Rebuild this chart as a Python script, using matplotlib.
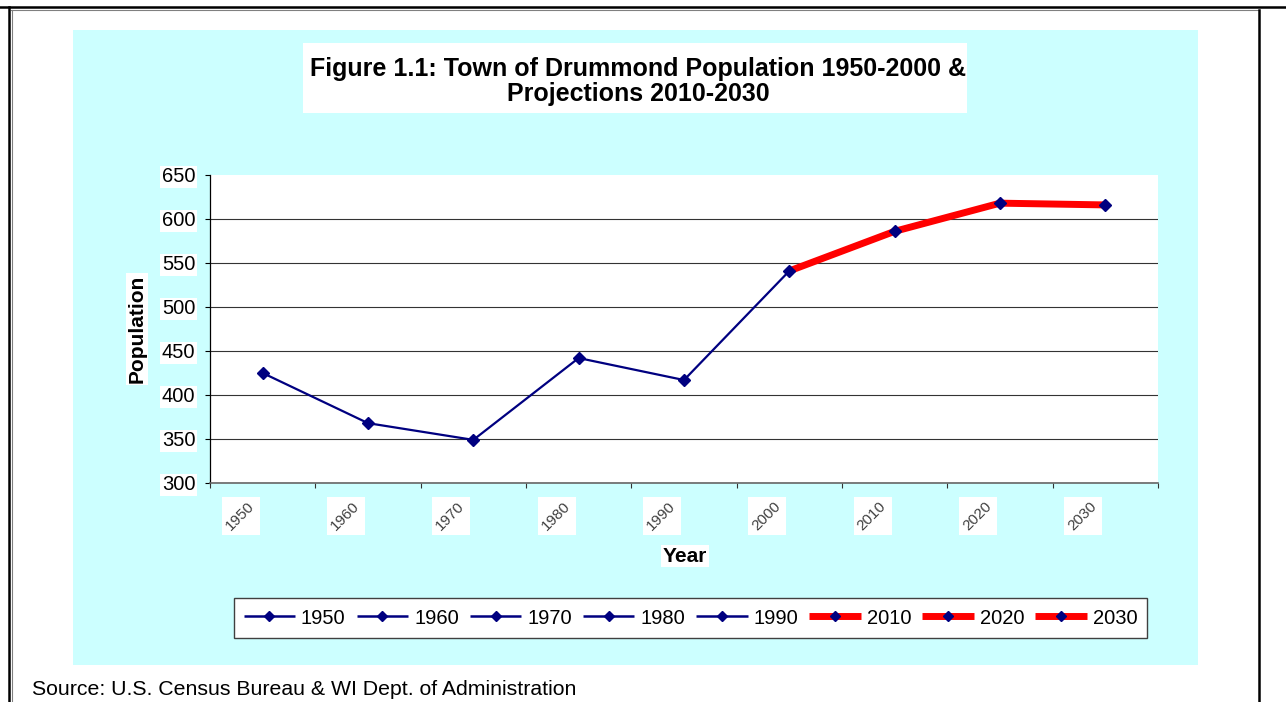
import matplotlib
matplotlib.use('Agg')
import matplotlib.pyplot as plt
import matplotlib.patches as mpatches
from matplotlib.lines import Line2D
from matplotlib.transforms import ScaledTranslation, blended_transform_factory
import numpy as np

plt.rcParams['font.family'] = ['Liberation Sans', 'DejaVu Sans']

# 数据
years = ['1950', '1960', '1970', '1980', '1990', '2000', '2010', '2020', '2030']
population = [425, 368, 349, 442, 417, 541, 586, 618, 616]
last_census = '2000'            # 之后为预测值
legend_years = ['1950', '1960', '1970', '1980', '1990', '2010', '2020', '2030']
y_ticks = [300, 350, 400, 450, 500, 550, 600, 650]
title_lines = ['Figure 1.1: Town of Drummond Population 1950-2000 &',
               'Projections 2010-2030']

NAVY = '#000080'
RED = '#FF0000'
CYAN = '#CCFFFF'

W, H = 1286, 702


def px(x, y):
    """像素坐标 (左上为原点) -> figure 坐标."""
    return x / W, 1 - y / H


def main():
    fig = plt.figure(figsize=(W / 100, H / 100), dpi=100)
    fig.patch.set_facecolor('white')

    # 页面边框
    fig.add_artist(Line2D([0, 1], [px(0, 7)[1]] * 2, color='black', lw=1.8))
    fig.add_artist(Line2D([px(11, 0)[0], px(1258, 0)[0]], [px(0, 10)[1]] * 2,
                          color='#808080', lw=0.8))
    fig.add_artist(Line2D([px(9, 0)[0]] * 2, [0, px(0, 7)[1]], color='black', lw=1.8))
    fig.add_artist(Line2D([px(11.5, 0)[0]] * 2, [0, px(0, 10)[1]],
                          color='#808080', lw=0.8))
    fig.add_artist(Line2D([px(1259, 0)[0]] * 2, [0, px(0, 10)[1]], color='black', lw=1.8))

    # 图表区背景 (青色) 和标题白框
    x0, y0 = px(73, 665)
    x1, y1 = px(1198, 30)
    fig.add_artist(mpatches.Rectangle((x0, y0), x1 - x0, y1 - y0,
                                      transform=fig.transFigure,
                                      facecolor=CYAN, edgecolor='none', zorder=0))
    x0, y0 = px(303, 113)
    x1, y1 = px(967, 43)
    fig.add_artist(mpatches.Rectangle((x0, y0), x1 - x0, y1 - y0,
                                      transform=fig.transFigure,
                                      facecolor='white', edgecolor='none', zorder=1))
    for line, base in zip(title_lines, [76, 101.5]):
        tx, ty = px(638, base)
        fig.text(tx, ty, line, ha='center', va='baseline',
                 fontsize=18, fontweight='bold', zorder=2)

    # 绘图区
    left, bottom = px(210, 483)
    right, top = px(1158, 175)
    ax = fig.add_axes([left, bottom, right - left, top - bottom])
    ax.set_facecolor('white')

    x = np.arange(len(years))
    split = years.index(last_census)
    ax.plot(x[:split + 1], population[:split + 1], color=NAVY, lw=1.6, zorder=3)
    ax.plot(x[split:], population[split:], color=RED, lw=5, zorder=3,
            solid_capstyle='butt')
    ax.plot(x, population, ls='none', marker='D', ms=6, color=NAVY, zorder=4)

    ax.set_xlim(-0.5, len(years) - 0.5)
    ax.set_ylim(y_ticks[0], y_ticks[-1])

    # 网格线 (顶部 650 不画)
    ax.set_yticks(y_ticks)
    ax.yaxis.grid(True, color='#333333', lw=0.8)
    ax.get_ygridlines()[-1].set_visible(False)
    ax.set_axisbelow(True)

    for s in ['top', 'right']:
        ax.spines[s].set_visible(False)
    ax.spines['left'].set_color('black')
    ax.spines['left'].set_linewidth(0.9)
    ax.spines['bottom'].set_color('#666666')
    ax.spines['bottom'].set_linewidth(1.2)

    ax.tick_params(axis='y', direction='out', length=3.6, width=0.8,
                   labelsize=14.5, pad=7)
    for lbl in ax.get_yticklabels():
        lbl.set_bbox(dict(facecolor='white', edgecolor='none', pad=1))

    # 类别轴: 刻度在类别边界, 标签在中心
    ax.set_xticks(x)
    ax.set_xticks(np.arange(len(years) + 1) - 0.5, minor=True)
    ax.set_xticklabels(years, rotation=45, ha='right', va='top',
                       fontsize=11, color='#404040')
    ax.tick_params(axis='x', which='major', length=0, pad=12)
    ax.tick_params(axis='x', which='minor', direction='out', length=3.6,
                   width=0.8, color='#333333')
    offset = ScaledTranslation(-6 / 100, 0, fig.dpi_scale_trans)
    for lbl in ax.get_xticklabels():
        lbl.set_transform(lbl.get_transform() + offset)

    # 标签后面的白色方框 (不随文字旋转), 放在坐标轴 (zorder 0.5) 之下
    cat_px = 948 / len(years)
    trans = blended_transform_factory(ax.transData, ax.transAxes)
    for i in x:
        ax.add_patch(mpatches.Rectangle((i - 41 / cat_px, (483 - 535) / 308),
                                        38 / cat_px, 38 / 308, transform=trans,
                                        facecolor='white', edgecolor='none',
                                        clip_on=False, zorder=0.4))

    ax.set_ylabel('Population', fontsize=15, fontweight='bold', va='center',
                  bbox=dict(facecolor='white', edgecolor='none', pad=1))
    ax.yaxis.set_label_coords((137 - 210) / 948, 0.5)
    ax.set_xlabel('Year', fontsize=15, fontweight='bold', va='center',
                  bbox=dict(facecolor='white', edgecolor='none', pad=1))
    ax.xaxis.set_label_coords((685 - 210) / 948, (483 - 556) / 308)

    # 图例
    handles = []
    for yr in legend_years:
        proj = yr > last_census
        handles.append(Line2D([], [], color=RED if proj else NAVY,
                              lw=5 if proj else 1.8, marker='D', ms=5.5,
                              markerfacecolor=NAVY, markeredgecolor=NAVY,
                              solid_capstyle='butt'))
    lx, ly = px(690.5, 618)
    leg = fig.legend(handles, legend_years, loc='center', bbox_to_anchor=(lx, ly),
                     ncol=len(legend_years), fontsize=14.5, frameon=True,
                     fancybox=False, edgecolor='#404040', framealpha=1,
                     handlelength=2.55, handletextpad=0.3, columnspacing=0.55,
                     borderpad=0.5)
    leg.get_frame().set_linewidth(1.0)

    sx, sy = px(32, 695)
    fig.text(sx, sy, 'Source: U.S. Census Bureau & WI Dept. of Administration',
             ha='left', va='baseline', fontsize=15.3)

    fig.savefig('out.png', dpi=100, facecolor='white')
    plt.close(fig)


if __name__ == '__main__':
    main()
